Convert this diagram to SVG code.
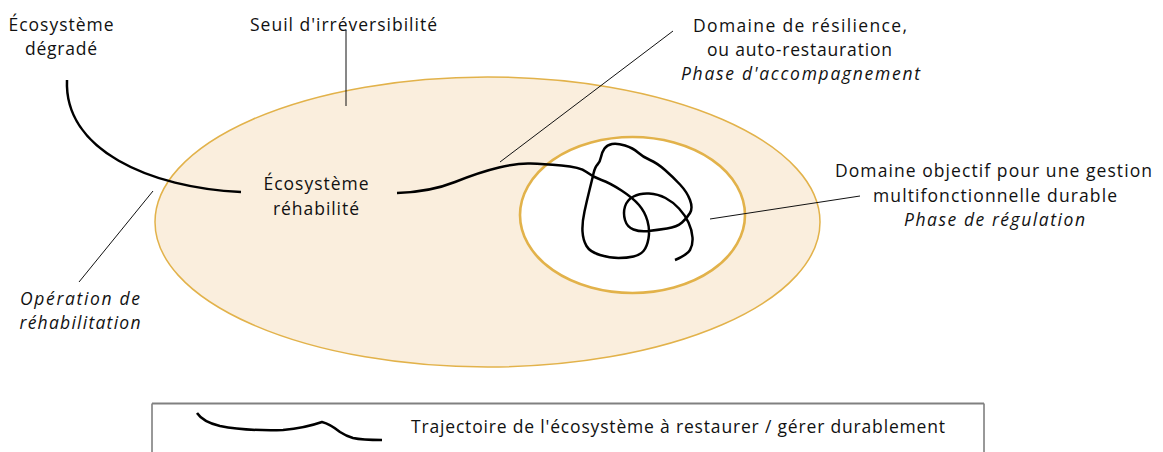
<svg xmlns="http://www.w3.org/2000/svg" width="1163" height="452" viewBox="0 0 1163 452">
<style>
.t{font-family:"Open Sans","Noto Sans","Liberation Sans",sans-serif;font-size:17.5px;fill:#111;text-anchor:middle}
.i{font-style:italic}
.lead{stroke:#111;stroke-width:1;fill:none}
.traj{stroke:#000;stroke-width:2.5;fill:none;stroke-linecap:butt;stroke-linejoin:round}
.zone{stroke:#E2B24A}
</style>
<rect width="1163" height="452" fill="#fff"/>
<g id="seuil">
<ellipse class="zone" cx="487.5" cy="222" rx="332.5" ry="145" fill="#FAEEDD" style="stroke-width:1.5"/>
</g>
<g id="domaine-objectif">
<ellipse class="zone" cx="632.5" cy="215" rx="112.5" ry="78" fill="#fff" style="stroke-width:2.6"/>
</g>
<g id="connectors">
<line class="lead" x1="346" y1="30" x2="346" y2="106"/>
<line class="lead" x1="673" y1="31" x2="500" y2="162"/>
<line class="lead" x1="710" y1="219" x2="860" y2="196"/>
<line class="lead" x1="153" y1="191" x2="79" y2="282"/>
<path class="traj" d="M67,80 C64,150 150,188 241,192"/>
<path class="traj" d="M397,193 Q430,192 455,182 Q480,172 499,167.5 Q518,163 530.5,163.5 Q543,164 561.5,165.5 Q580,167 586.5,172 Q593,177 601.5,180 Q610,183 621.5,190.5 Q633,198 639,205 Q645,212 647.5,221 Q650,230 648.5,238.5 Q647,247 643.5,251 Q640,255 633.5,256.5 Q627,258 618.5,258 Q610,258 600,255 Q590,252 586.5,246 Q583,240 582.5,231.5 Q582,223 584.5,211.5 Q587,200 589.5,190 Q592,180 593.5,173.5 Q595,167 597.5,164.5 Q600,162 601,157 Q602,152 604.5,148.5 Q607,145 612,144 Q617,143 625,145.5 Q633,148 638,152.5 Q643,157 650,160 Q657,163 665,170 Q673,177 680,184.5 Q687,192 690,200 Q693,208 690,213 Q687,218 682,222.5 Q677,227 667,228.5 Q657,230 648.5,231 Q640,232 633.5,229.5 Q627,227 625,220 Q623,213 625,206.5 Q627,200 633.5,196.5 Q640,193 649,193.5 Q658,194 665.5,198 Q673,202 679,208.5 Q685,215 688.5,222.5 Q692,230 692.5,237.5 Q693,245 690,250 Q687,255 675,260"/>
</g>
<g id="label-degrade">
<text class="t" x="61" y="31" textLength="105">Écosystème</text>
<text class="t" x="61" y="55" textLength="72">dégradé</text>
</g>
<g id="label-seuil">
<text class="t" x="343.5" y="31" textLength="187">Seuil d'irréversibilité</text>
</g>
<g id="label-rehabilite">
<text class="t" x="316" y="190" textLength="105">Écosystème</text>
<text class="t" x="316" y="215" textLength="86">réhabilité</text>
</g>
<g id="label-resilience">
<text class="t" x="800" y="32" textLength="214">Domaine de résilience,</text>
<text class="t" x="799.5" y="56" textLength="185">ou auto-restauration</text>
<text class="t i" x="800.5" y="80" textLength="239">Phase d'accompagnement</text>
</g>
<g id="label-objectif">
<text class="t" x="993.5" y="177" textLength="317">Domaine objectif pour une gestion</text>
<text class="t" x="995" y="202" textLength="244">multifonctionnelle durable</text>
<text class="t i" x="994.5" y="226" textLength="181">Phase de régulation</text>
</g>
<g id="label-operation">
<text class="t i" x="80" y="305" textLength="120">Opération de</text>
<text class="t i" x="80" y="329" textLength="121">réhabilitation</text>
</g>
<g id="legend">
<path d="M152,460 V403.5 H984 V460" fill="none" stroke="#333" stroke-width="1"/>
<line x1="152" y1="403.5" x2="984" y2="403.5" stroke="#808080" stroke-width="2"/>
<path class="traj" d="M197,413 Q203,422 220,426 Q245,431 283,430 Q305,428 322,422 Q330,424 340,432 Q346,436 353,438 Q362,440 382,440"/>
<text class="t" x="678" y="433" textLength="534">Trajectoire de l'écosystème à restaurer / gérer durablement</text>
</g>
</svg>
